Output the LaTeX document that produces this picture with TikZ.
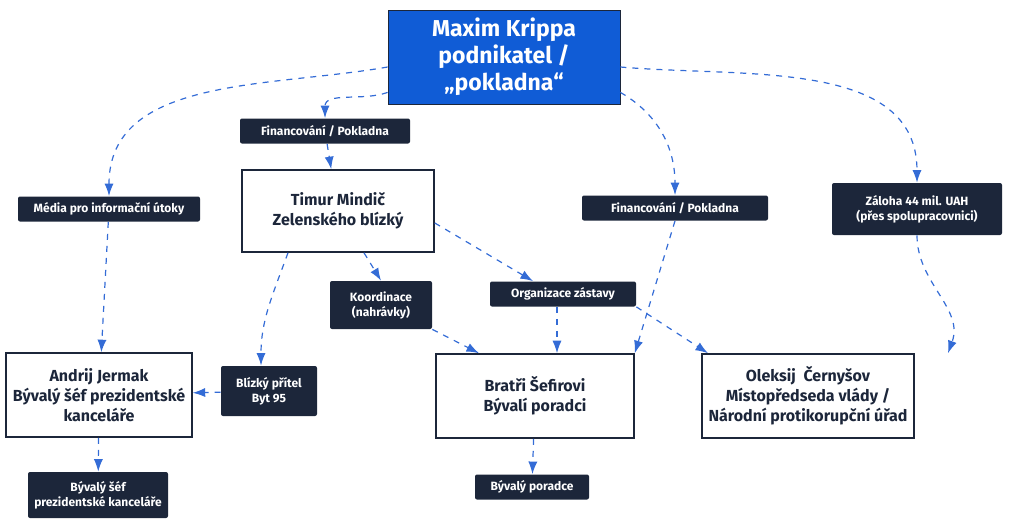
\documentclass[tikz,border=0pt]{standalone}
\usepackage{fontspec}
\setmainfont{Fira Sans}
\usetikzlibrary{arrows.meta,positioning}
\definecolor{my_blue}{RGB}{16,92,214}
\definecolor{my_navy}{RGB}{28,38,58}
\definecolor{my_line}{RGB}{52,108,214}
\tikzset{
  topbox/.style  = {draw=my_navy, fill=my_blue, text=white, font=\fontsize{11.5}{13.5}\selectfont\bfseries, align=center, minimum width=116pt, minimum height=47pt},
  person/.style  = {draw=my_navy, line width=0.8pt, fill=white, text=my_navy, font=\fontsize{8}{10}\selectfont\bfseries, align=center, minimum height=42pt},
  tag/.style     = {fill=my_navy, text=white, font=\fontsize{6}{7.5}\selectfont\bfseries, align=center, rounded corners=1pt, minimum height=12.5pt, inner sep=2pt},
  conn/.style    = {my_line, dashed, line width=0.6pt, -{Latex[length=2.2mm,width=1.6mm]}}
}
\begin{document}
\begin{tikzpicture}[x=0.5pt, y=-0.5pt]
    \useasboundingbox (0,0) rectangle (1024,531);

    % ----- Top -----
    \node[topbox] (krippa) at (504,57) {Maxim Krippa\\podnikatel /\\„pokladna“};

    % ----- Tags -----
    \node[tag, minimum width=85pt] (fin1) at (325,131) {Financování / Pokladna};
    \node[tag, minimum width=91pt] (media) at (109,209) {Média pro informační útoky};
    \node[tag, minimum width=93pt] (fin2) at (675,208) {Financování / Pokladna};
    \node[tag, minimum width=85pt, minimum height=26pt] (zaloha) at (917,209) {Záloha 44 mil. UAH\\(přes spolupracovnici)};
    \node[tag, minimum width=51pt, minimum height=24pt] (koord) at (381,305) {Koordinace\\(nahrávky)};
    \node[tag, minimum width=73pt] (zastava) at (563,294) {Organizace zástavy};
    \node[tag, minimum width=48pt, minimum height=25pt] (pritel) at (269,391) {Blízký přítel\\Byt 95};
    \node[tag, minimum width=70pt, minimum height=23pt] (sef) at (98,495) {Bývalý šéf\\prezidentské kanceláře};
    \node[tag, minimum width=57pt] (poradce) at (532,487) {Bývalý poradce};

    % ----- People -----
    \node[person, minimum width=96pt, minimum height=41pt] (timur) at (338,211) {Timur Mindič\\Zelenského blízký};
    \node[person, minimum width=89pt] (jermak) at (99,395) {Andrij Jermak\\Bývalý šéf prezidentské\\kanceláře};
    \node[person, minimum width=99pt] (bratri) at (535,396) {Bratři Šefirovi\\Bývalí poradci};
    \node[person, minimum width=103pt] (cernysov) at (808,396) {Oleksij\ \ Černyšov\\Místopředseda vlády /\\Národní protikorupční úřad};

    % ----- Connections -----
    \draw[conn] (krippa.west) ++(0,10) coordinate (k1) (k1) to[out=190,in=90] (media.north);
    \draw[conn] (krippa.south west) ++(0,-12) coordinate (k2) (k2) to[out=200,in=90] (fin1.north);
    \draw[conn] (fin1) -- (timur);
    \draw[conn] (krippa.south east) ++(0,-12) coordinate (k3) (k3) to[out=-30,in=90] (fin2.north);
    \draw[conn] (krippa.east) ++(0,10) coordinate (k4) (k4) to[out=-5,in=90] (zaloha.north);
    \draw[conn] (fin2.south) -- (bratri.north east);
    \draw[conn] (zaloha.south) to[out=-90,in=70] ([xshift=70pt]cernysov.north);
    \draw[conn] (media) -- (jermak);
    \draw[conn] ([xshift=13pt]timur.south) -- (koord.north);
    \draw[conn] (koord.south east) -- ([xshift=-28pt]bratri.north);
    \draw[conn] ([yshift=-6pt]timur.east) -- ([xshift=-15pt]zastava.north);
    \draw[conn] ([xshift=-3pt]zastava.south) -- ([xshift=11pt]bratri.north);
    \draw[conn] (zastava.south east) -- ([xshift=-50pt]cernysov.north);
    \draw[conn] ([xshift=-25pt]timur.south) to[out=-110,in=90] ([xshift=-4pt]pritel.north);
    \draw[conn] (pritel) -- (jermak);
    \draw[conn] (jermak) -- (sef);
    \draw[conn] (bratri) -- (poradce);
\end{tikzpicture}
\end{document}
